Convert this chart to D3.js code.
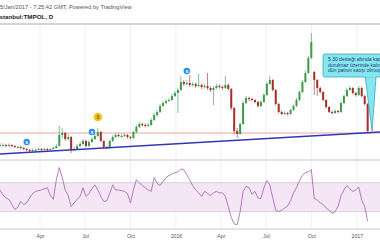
<!DOCTYPE html>
<html>
<head>
<meta charset="utf-8">
<script src="https://cdn.jsdelivr.net/npm/d3@7"></script>
<style>
  body { margin: 0; background: #fff; }
  svg { display: block; font-family: "Liberation Sans", Arial, sans-serif; }
</style>
</head>
<body>
<div id="chart"></div>
<script>
// bars are 6 calendar days apart, starting 10 Jan 2015
const startDate = new Date(2015, 0, 10);
const stepDays = 6;

const opens = [
  4.70,4.70,4.70,4.65,4.70,4.65,4.60,4.60,4.55,4.50,
  4.45,4.40,4.45,4.45,4.50,4.45,4.50,4.45,4.50,4.55,
  4.65,5.20,5.30,5.00,5.10,4.45,4.50,4.65,4.75,4.90,
  4.65,4.85,5.00,5.15,5.35,4.90,4.60,4.55,4.90,5.10,
  5.20,5.15,5.15,5.20,5.10,5.05,5.35,5.60,5.75,5.70,
  5.65,5.70,5.95,6.20,6.35,6.65,6.80,6.90,6.95,7.15,
  7.30,7.45,7.85,7.75,7.80,7.70,7.75,7.65,7.70,7.60,
  7.65,7.55,7.45,7.55,7.65,7.60,7.55,7.70,7.50,6.55,
  5.40,5.25,5.75,6.80,7.05,7.00,6.95,6.85,6.65,6.85,
  7.20,7.75,7.95,7.45,6.75,6.35,6.25,6.30,6.25,6.45,
  6.65,6.95,7.35,7.85,8.30,9.05,8.35,7.95,7.55,7.35,
  6.95,6.60,6.35,6.30,6.40,6.35,6.80,7.15,7.45,7.55,
  7.30,7.20,7.55,7.15,6.75
];
const closes = [
  4.70,4.70,4.65,4.70,4.65,4.60,4.60,4.55,4.50,4.45,
  4.40,4.45,4.45,4.50,4.45,4.50,4.45,4.50,4.55,4.65,
  5.20,5.30,5.00,5.10,4.45,4.50,4.65,4.75,4.90,4.65,
  4.85,5.00,5.15,5.35,4.90,4.60,4.55,4.90,5.10,5.20,
  5.15,5.15,5.20,5.10,5.05,5.35,5.60,5.75,5.70,5.65,
  5.70,5.95,6.20,6.35,6.65,6.80,6.90,6.95,7.15,7.30,
  7.45,7.85,7.75,7.80,7.70,7.75,7.65,7.70,7.60,7.65,
  7.55,7.45,7.55,7.65,7.60,7.55,7.70,7.50,6.55,5.40,
  5.25,5.75,6.80,7.05,7.00,6.95,6.85,6.65,6.85,7.20,
  7.75,7.95,7.45,6.75,6.35,6.25,6.30,6.25,6.45,6.65,
  6.95,7.35,7.85,8.30,9.05,9.85,7.95,7.55,7.35,6.95,
  6.60,6.35,6.30,6.40,6.35,6.80,7.15,7.45,7.55,7.30,
  7.20,7.55,7.15,6.75,5.40
];
const highs = [
  4.80,4.78,4.76,4.78,4.74,4.70,4.68,4.66,4.62,4.56,
  4.52,4.52,4.52,4.56,4.55,4.56,4.55,4.56,4.62,4.75,
  5.65,5.55,5.35,5.25,5.15,4.60,4.75,4.85,5.00,4.95,
  4.95,5.10,5.30,5.55,5.40,4.95,4.68,4.98,5.18,5.30,
  5.28,5.25,5.30,5.25,5.15,5.42,5.70,5.85,5.82,5.78,
  5.80,6.05,6.30,6.45,6.75,6.90,7.00,7.05,7.25,7.40,
  7.55,8.15,7.95,7.95,8.20,7.85,7.82,8.25,7.78,7.75,
  8.30,7.62,7.65,7.75,7.72,7.68,8.15,7.78,7.55,6.60,
  5.55,5.85,6.90,7.15,7.12,7.08,7.00,6.92,6.95,7.30,
  7.85,8.15,8.00,7.50,6.82,6.42,6.38,6.36,6.52,6.72,
  7.05,7.45,7.95,8.42,9.15,10.30,8.40,8.00,7.62,7.40,
  7.00,6.65,6.42,6.48,6.45,6.88,7.22,7.55,7.65,7.60,
  7.35,7.65,7.60,7.20,6.80
];
const lows = [
  4.62,4.64,4.60,4.62,4.58,4.55,4.54,4.48,4.44,4.38,
  4.34,4.36,4.40,4.42,4.40,4.42,4.40,4.42,4.46,4.52,
  4.62,5.05,4.90,4.92,4.30,4.38,4.45,4.60,4.70,4.58,
  4.60,4.80,4.95,5.10,4.85,4.52,4.48,4.50,4.85,5.05,
  5.08,5.08,5.10,5.02,4.98,5.00,5.30,5.55,5.62,5.58,
  5.60,5.65,5.90,6.10,6.30,6.60,6.75,6.85,6.90,7.10,
  6.30,7.40,7.65,7.70,7.60,7.62,7.55,7.58,7.50,7.52,
  7.45,7.35,6.70,7.48,7.52,7.45,7.50,7.42,6.45,5.25,
  5.05,5.20,5.70,6.75,6.90,6.88,6.78,6.58,6.60,6.80,
  7.15,7.70,7.38,6.68,6.28,6.18,6.20,6.18,6.20,6.40,
  6.60,6.90,7.30,7.80,8.25,9.00,7.20,7.15,7.28,6.88,
  6.52,6.28,6.22,6.25,6.28,6.30,6.75,7.10,7.40,7.25,
  7.12,7.15,7.08,6.68,5.35
];
const rsiValues = [
  60,53,49,47,40,33,36,44,40,42,
  49,55,58,59,60,62,63,52,47,74,
  91,77,60,52,37,42,47,51,63,51,
  55,62,67,60,51,44,45,55,67,60,
  60,59,58,55,42,60,74,70,66,63,
  60,58,77,69,66,72,77,80,82,84,
  85,89,88,81,74,66,60,56,51,58,
  55,52,56,58,56,56,51,37,22,13,
  12,30,58,65,63,54,58,49,48,63,
  73,67,49,32,30,32,35,38,45,56,
  63,73,80,84,85,88,48,46,42,40,
  35,32,28,30,37,52,60,66,62,58,
  60,64,46,37,17
];

const tickDates = ["2015-04-01","2015-07-01","2015-10-01","2016-01-01","2016-04-01","2016-07-01","2016-10-01","2017-01-01"];
const tickLabels = ["Apr","Jul","Oct","2016","Apr","Jul","Oct","2017"];

const trendDates = ["2015-01-10","2017-02-17"];
const trendPrices = [4.25, 5.35];
const supportPrice = 5.30;

// chart events (bar index, price where the badge sits, kind)
const eventBars = [9, 31, 33, 63];
const eventPrices = [4.85, 5.35, 6.10, 8.40];
const eventKinds = ["split", "split", "dividend", "split"];

const noteLines = ["5.30 desteği altında kapanış", "durulmaz üzerinde kalınabilir", "dün patron satışı olmuş"];
const noteDate = "2017-02-01";
const notePrice = 5.40;

const headerLine1 = "05/Jan/2017 - 7:25:42 GMT, Powered by TradingView";
const headerLine2 = "İstanbul:TMPOL, D";

const width = 380, height = 240;
const main = { top: 25, bottom: 160 };
const pane = { top: 161, bottom: 229 };

const parse = d3.timeParse("%Y-%m-%d");
const bars = closes.map((c, i) => ({
  date: d3.timeDay.offset(startDate, i * stepDays),
  open: opens[i], close: c, high: highs[i], low: lows[i], rsi: rsiValues[i]
}));

const xScale = d3.scaleTime()
  .domain([startDate, parse("2017-02-17")])
  .range([0, width]);
const yScale = d3.scaleLinear().domain([3.95, 10.70]).range([main.bottom, main.top]);
const rsiScale = d3.scaleLinear().domain([6, 100]).range([pane.bottom, pane.top]);

const svg = d3.select("#chart").append("svg")
  .attr("width", width)
  .attr("height", height);

// header
svg.append("text")
  .attr("x", -3.2).attr("y", 9)
  .attr("font-size", 5.7).attr("fill", "#555")
  .text(headerLine1);
svg.append("text")
  .attr("x", -2.2).attr("y", 19)
  .attr("font-size", 6.2).attr("font-weight", "bold").attr("fill", "#222")
  .text(headerLine2);
svg.append("line")
  .attr("x1", 0).attr("x2", width).attr("y1", 24).attr("y2", 24)
  .attr("stroke", "#c6c6c6").attr("stroke-width", 1.5);

// vertical grid
svg.append("g").selectAll("line")
  .data(tickDates)
  .join("line")
  .attr("x1", d => xScale(parse(d))).attr("x2", d => xScale(parse(d)))
  .attr("y1", main.top).attr("y2", pane.bottom)
  .attr("stroke", "#eef0f3");

// rsi band
svg.append("rect")
  .attr("x", 0).attr("width", width)
  .attr("y", rsiScale(70)).attr("height", rsiScale(30) - rsiScale(70))
  .attr("fill", "#f5e6f5");
[70, 30].forEach(v => {
  svg.append("line")
    .attr("x1", 0).attr("x2", width)
    .attr("y1", rsiScale(v)).attr("y2", rsiScale(v))
    .attr("stroke", "#c9c3cc").attr("stroke-width", 0.7);
});

// pane borders
[main.bottom, pane.bottom].forEach(y => {
  svg.append("line")
    .attr("x1", 0).attr("x2", width).attr("y1", y).attr("y2", y)
    .attr("stroke", "#c9c9c9");
});

// support line
svg.append("line")
  .attr("x1", 0).attr("x2", width)
  .attr("y1", yScale(supportPrice)).attr("y2", yScale(supportPrice))
  .attr("stroke", "#e79a9a").attr("stroke-width", 0.9);

// candles
const candles = svg.append("g").attr("class", "candles");
candles.selectAll("line")
  .data(bars)
  .join("line")
  .attr("x1", d => xScale(d.date)).attr("x2", d => xScale(d.date))
  .attr("y1", d => yScale(d.high)).attr("y2", d => yScale(d.low))
  .attr("stroke", d => d.close >= d.open ? "#5f9e6a" : "#9c4a44")
  .attr("stroke-width", 0.7);
candles.selectAll("rect")
  .data(bars)
  .join("rect")
  .attr("x", d => xScale(d.date) - 1)
  .attr("width", 2)
  .attr("y", d => yScale(Math.max(d.open, d.close)))
  .attr("height", d => Math.max(1, Math.abs(yScale(d.open) - yScale(d.close))))
  .attr("fill", d => d.close >= d.open ? "#3e9a4c" : "#a3302a");

// trend line
svg.append("line")
  .attr("x1", xScale(parse(trendDates[0]))).attr("y1", yScale(trendPrices[0]))
  .attr("x2", xScale(parse(trendDates[1]))).attr("y2", yScale(trendPrices[1]))
  .attr("stroke", "#3434b8").attr("stroke-width", 1.5);

// event badges
eventBars.forEach((b, i) => {
  const cx = xScale(bars[b].date), cy = yScale(eventPrices[i]);
  const g = svg.append("g").attr("transform", `translate(${cx},${cy})`);
  if (eventKinds[i] === "dividend") {
    g.append("circle").attr("r", 4.3).attr("fill", "#f4c41a");
    g.append("text").attr("text-anchor", "middle").attr("y", 1.8)
      .attr("font-size", 5).attr("font-weight", "bold").attr("fill", "#8a6400").text("$");
  } else {
    g.append("circle").attr("r", 3.2).attr("fill", "#2b8fe6");
    g.append("text").attr("text-anchor", "middle").attr("y", 1.5)
      .attr("font-size", 4.2).attr("font-weight", "bold").attr("fill", "#fff").text("S");
  }
});

// rsi line
svg.append("path")
  .datum(bars)
  .attr("fill", "none")
  .attr("stroke", "#a35cb0")
  .attr("stroke-width", 0.8)
  .attr("d", d3.line().x(d => xScale(d.date)).y(d => rsiScale(d.rsi)));

// callout
const tipX = xScale(parse(noteDate)), tipY = yScale(notePrice);
const note = svg.append("g").attr("class", "note");
note.append("path")
  .attr("d", `M${tipX - 7},76 L${tipX},${tipY} L${tipX + 4},76`)
  .attr("fill", "#86e6f0").attr("stroke", "#3aaab8").attr("stroke-width", 0.8);
note.append("rect")
  .attr("x", 323).attr("y", 54).attr("width", 80).attr("height", 23).attr("rx", 2)
  .attr("fill", "#86e6f0").attr("stroke", "#3aaab8").attr("stroke-width", 0.8);
note.append("rect")
  .attr("x", tipX - 6.3).attr("y", 75.5).attr("width", 9.6).attr("height", 2)
  .attr("fill", "#86e6f0");
note.selectAll("text")
  .data(noteLines)
  .join("text")
  .attr("x", 328).attr("y", (d, i) => 61 + i * 5.6)
  .attr("font-size", 5).attr("fill", "#1d3c6e")
  .text(d => d);

// x axis
const xAxis = d3.axisBottom(xScale)
  .tickValues(tickDates.map(parse))
  .tickFormat((d, i) => tickLabels[i])
  .tickSize(0);
const axisGroup = svg.append("g")
  .attr("transform", `translate(0,${pane.bottom + 1})`)
  .call(xAxis);
axisGroup.select(".domain").remove();
axisGroup.selectAll("text")
  .attr("font-size", 5.2)
  .attr("font-family", "Liberation Sans, Arial, sans-serif")
  .attr("fill", "#555")
  .attr("dy", "0.95em");
</script>
</body>
</html>
